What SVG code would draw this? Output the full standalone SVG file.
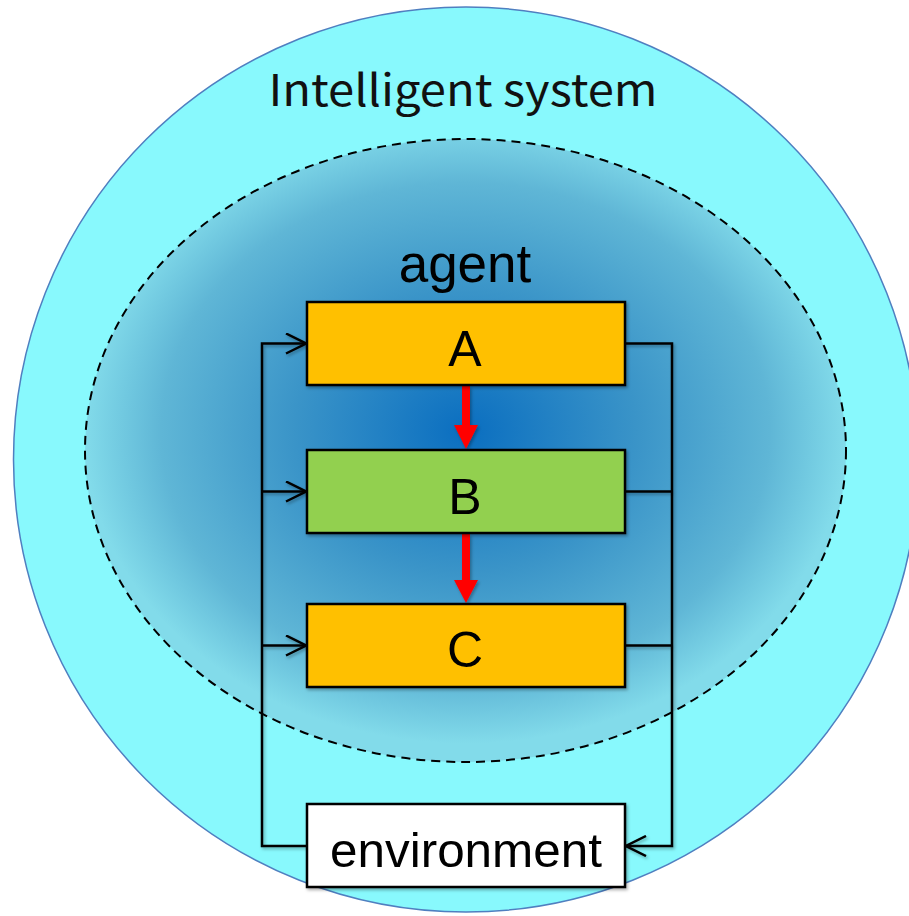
<svg xmlns="http://www.w3.org/2000/svg" width="909" height="916" viewBox="0 0 909 916">
  <defs>
    <radialGradient id="agentGrad" cx="0.5" cy="0.47" r="0.5">
      <stop offset="0" stop-color="#0a6ec0"/>
      <stop offset="0.45" stop-color="#3a94c8"/>
      <stop offset="0.8" stop-color="#5fb6d6"/>
      <stop offset="1" stop-color="#82dbea"/>
    </radialGradient>
    <filter id="shadow" x="-10%" y="-10%" width="130%" height="130%">
      <feDropShadow dx="1.5" dy="2" stdDeviation="1.5" flood-color="#000" flood-opacity="0.3"/>
    </filter>
    <marker id="open" viewBox="0 0 22 22" markerWidth="22" markerHeight="22" refX="21" refY="11" orient="auto" markerUnits="userSpaceOnUse">
      <path d="M1,1 L21,11 L1,21" fill="none" stroke="#000" stroke-width="2.5"/>
    </marker>
    <style>
      .box { stroke: #000; stroke-width: 2.5; }
      .wire { fill: none; stroke: #000; stroke-width: 2.5; }
      .red { fill: #ff0000; }
      .lbl { font-family: "Liberation Sans", Arial, sans-serif; fill: #000; text-anchor: middle; }
    </style>
  </defs>

  <g id="intelligent-system">
    <circle cx="466" cy="459.5" r="452.5" fill="#88f9fd" stroke="#4f7fc0" stroke-width="1.5"/>
    <text x="463" y="106" font-family="'Noto Sans CJK JP', 'DejaVu Sans', sans-serif" font-size="44" fill="#111" text-anchor="middle" textLength="389" lengthAdjust="spacingAndGlyphs">Intelligent system</text>
  </g>

  <g id="agent">
    <ellipse cx="465.5" cy="450.5" rx="380.5" ry="311.5" fill="url(#agentGrad)" stroke="#000" stroke-width="2" stroke-dasharray="9,6"/>
    <text x="465" y="282" class="lbl" font-size="53" fill="#1a1a1a">agent</text>
  </g>

  <g id="connectors" filter="url(#shadow)">
    <path class="wire" d="M307,846 H262 V343.5 H306" marker-end="url(#open)"/>
    <path class="wire" d="M262,491.5 H306" marker-end="url(#open)"/>
    <path class="wire" d="M262,645.5 H306" marker-end="url(#open)"/>
    <path class="wire" d="M625,343.5 H672 V846 H626" marker-end="url(#open)"/>
    <path class="wire" d="M625,491.5 H672"/>
    <path class="wire" d="M625,645.5 H672"/>
    <path class="red" d="M462,386 H470 V425 H478 L466,449 L454,425 H462 Z"/>
    <path class="red" d="M462,534 H470 V580 H478 L466,603 L454,580 H462 Z"/>
  </g>

  <g id="node-A" filter="url(#shadow)">
    <rect class="box" x="307" y="302" width="318" height="83" fill="#ffc000"/>
    <text x="465" y="366" class="lbl" font-size="50">A</text>
  </g>

  <g id="node-B" filter="url(#shadow)">
    <rect class="box" x="307" y="450" width="318" height="83" fill="#92d050"/>
    <text x="465" y="514" class="lbl" font-size="50">B</text>
  </g>

  <g id="node-C" filter="url(#shadow)">
    <rect class="box" x="307" y="604" width="318" height="83" fill="#ffc000"/>
    <text x="465" y="667" class="lbl" font-size="50">C</text>
  </g>

  <g id="environment" filter="url(#shadow)">
    <rect class="box" x="307" y="804" width="318" height="83" fill="#ffffff"/>
    <text x="466" y="867" class="lbl" font-size="49" textLength="272" lengthAdjust="spacingAndGlyphs">environment</text>
  </g>
</svg>
